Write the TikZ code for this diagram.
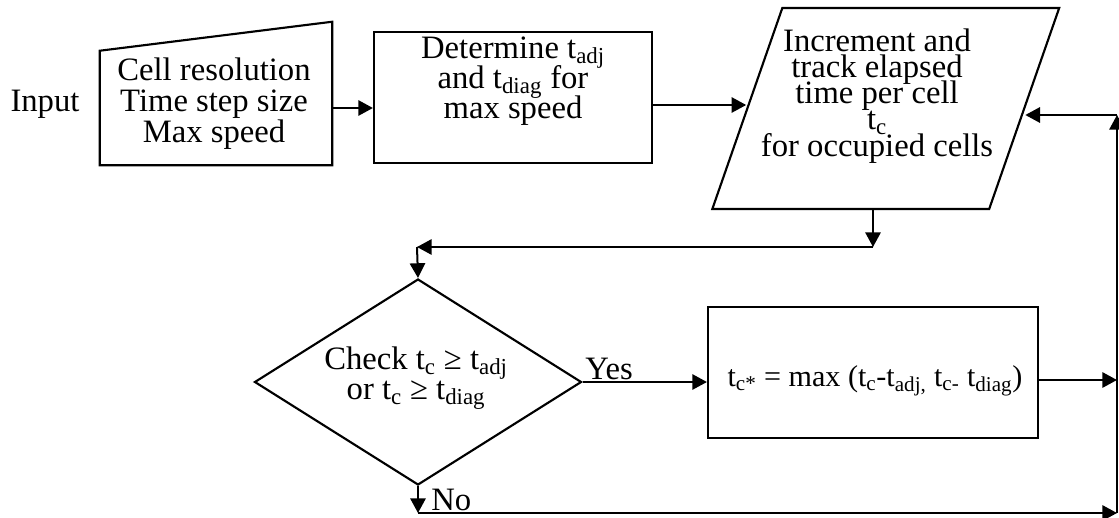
\documentclass[tikz,border=0pt]{standalone}
\usepackage{fontspec}
\setmainfont{Liberation Serif}
\usetikzlibrary{shapes.geometric,arrows.meta,calc}
\newcommand\pxu{0.75pt}
\newcommand\sub[1]{\textsubscript{#1}}
% font size with a fixed baseline distance between lines
\newcommand\tsize[2]{\fontsize{#1}{#2}\selectfont\lineskiplimit=-30pt\relax}

\begin{document}
\begin{tikzpicture}[x=0.75pt,y=-0.75pt,
  txt/.style={font=\tsize{24.5}{23.25}, align=center, inner sep=0pt},
  frame/.style={draw, line width=1.6pt, inner sep=0pt, line join=miter},
  arr/.style={line width=1.5pt, -{Triangle[length=11pt,width=11.5pt]}}]

\useasboundingbox (0,0) rectangle (1119,517);

% input block (manual-input shape)
\node[txt] (inlabel) at (45,104) {Input};
\node[inner sep=0pt, minimum width=232*\pxu, minimum height=114*\pxu] (inbox) at (216,108) {};
\draw[line width=1.6pt, line join=miter]
  (inbox.south west) -- (inbox.south east) -- ([yshift=29*\pxu]inbox.north east)
  -- (inbox.north west) -- cycle;
\node[txt] (intext) at (214,104) {Cell resolution\\Time step size\\Max speed};

% determine thresholds
\node[frame, minimum width=278*\pxu, minimum height=131*\pxu] (det) at (513,97.5) {};
\node[txt, font=\tsize{24.5}{22.5}] (dettext) at (513,81)
  {Determine t\sub{adj}\\and t\sub{diag} for\\max speed};

% elapsed-time tracking (parallelogram)
\node[frame, inner sep=2pt, trapezium, trapezium left angle=71.3, trapezium right angle=108.7,
  trapezium stretches=true, minimum width=347*\pxu, minimum height=201*\pxu] (incr) at (885.75,108.5) {};
\node[txt, font=\tsize{24.5}{19.6}] (incrtext) at (877,96)
  {Increment and\\track elapsed\\time per cell\\t\sub{c}\\for occupied cells};

% decision
\node[frame, inner sep=2pt, diamond, minimum width=327*\pxu, minimum height=206*\pxu] (check) at (418,382) {};
\node[txt, font=\tsize{24.5}{22.5}] (checktext) at (416,378)
  {Check t\sub{c} ≥ t\sub{adj}\\or t\sub{c} ≥ t\sub{diag}};

% update
\node[frame, minimum width=330*\pxu, minimum height=131*\pxu] (upd) at (873,372.5) {};
\node[txt, font=\tsize{22.6}{24}] (updtext) at (875,381)
  {t\sub{c*} = max (t\sub{c}-t\sub{adj,} t\sub{c-} t\sub{diag})};

% routing points
\coordinate (detout) at ($(det.east)+(0,7.5)$);
\coordinate (dropA) at (873,247);
\coordinate (dropB) at (417,247);
\coordinate (noC) at (418,513);
\coordinate (rbot) at (1117,513);
\coordinate (rmid) at (1117,380);
\coordinate (rtop) at (1117,115);

% connectors
\draw[arr] (inbox.east) -- (det.west |- inbox.east);
\draw[arr] (detout) -- (detout -| incr.west);
\draw[arr] (incr.south -| dropA) -- (dropA);
\draw[arr] (dropA) -- (dropB);
\draw[arr] (dropB) -- (check.north);
\draw[arr] (check.east) -- (check.east -| upd.west);
\node[txt, anchor=base west] (yes) at (585,379) {Yes};
\draw[arr] (upd.east |- rmid) -- (rmid);
\draw[arr] (check.south) -- (noC);
\node[txt, anchor=base west] (no) at (431,510) {No};
\draw[arr] (noC) -- (rbot);
\draw[arr] (rbot) -- (rtop);
\draw[arr] (rtop) -- (rtop -| incr.east);

\end{tikzpicture}
\end{document}
